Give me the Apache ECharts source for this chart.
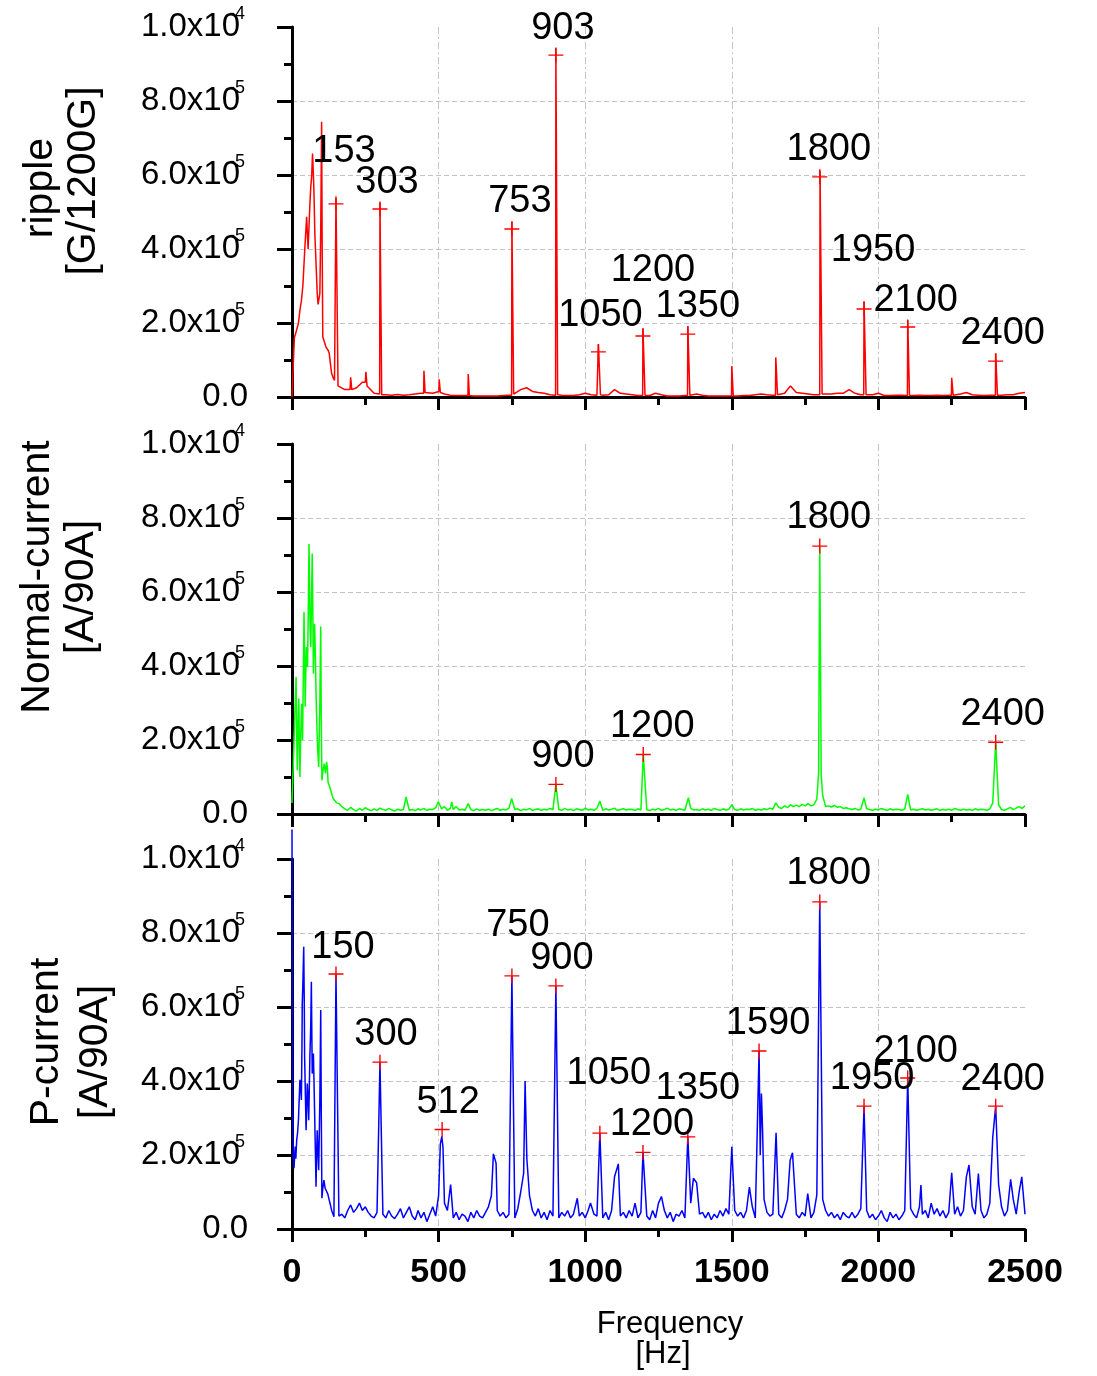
<!DOCTYPE html>
<html>
<head>
<meta charset="utf-8">
<script src="https://cdn.jsdelivr.net/npm/echarts@6/dist/echarts.min.js"></script>
<style>
  html, body { margin: 0; padding: 0; background: #fff; }
  #chart { width: 1097px; height: 1376px; }
</style>
</head>
<body>
<div id="chart"></div>
<script>
// values in units of 1e-5, frequency in Hz
const yTickMain = ['0.0', '2.0x10', '4.0x10', '6.0x10', '8.0x10', '1.0x10'];
const yTickExp = ['', '-5', '-5', '-5', '-5', '-4'];
const yNames = [['ripple', '[G/1200G]'], ['Normal-current', '[A/90A]'], ['P-current', '[A/90A]']];

// ---- ripple (red) ----
const redLow = [[0,0],[4,0.8],[8,1.6],[12,1.7],[18,1.75],[22,2.0],[27,2.35],[32,2.6],[37,3.0],[41,3.6],[44,4.05],[47,4.1],
  [50,4.87],[53,4.3],[55,4.0],[58,4.6],[61,5.2],[64,5.68],[67,5.95],[70,6.58],[73,6.0],[75,5.5],[78,4.4],[82,3.6],
  [86,2.8],[89,2.5],[91,2.54],[95,2.8],[98,4.5],[101,7.44],[103,4.0],[105,1.63],[110,1.5],[116,1.35],[120,1.4],
  [124,1.25],[127,1.18],[131,0.9],[135,0.64],[141,0.51],[145,0.45]];
// every 20 Hz from 160 Hz
const redFloor = [
  0.25,0.2,0.2,0.25,0.4,0.3,0.1,0.05,0.06,0.05,0.07,0.05,0.06,0.08,0.1,0.15,0.1,
  0.2,0.08,0.05,0.04,0.04,0.04,0.03,0.03,0.03,0.03,0.03,0.04,0.05,
  0.1,0.2,0.25,0.15,0.12,0.1,0.06,0.05,0.05,0.04,0.04,0.06,
  0.1,0.06,0.05,0.05,0.06,0.2,0.1,0.08,0.06,0.04,0.04,0.04,0.1,0.06,0.03,0.03,0.03,0.04,0.04,0.08,0.05,0.03,0.03,0.03,0.03,
  0.03,0.03,0.04,0.04,0.06,0.08,0.06,0.05,0.05,0.1,0.3,0.12,0.1,0.08,0.06,0.05,0.08,0.08,0.1,0.1,0.2,0.1,0.06,0.05,0.06,
  0.1,0.04,0.04,0.05,0.05,0.04,0.04,0.05,0.04,0.04,0.05,0.04,0.05,0.06,0.08,0.12,0.06,0.05,0.04,0.05,0.05,0.05,0.06,0.06,0.1,0.12];
// spike tops with their feet
const redSpikes = [
  [148,0.45],[150,5.38],[157,0.3], [198,0.2],[200,0.53],[204,0.2], [250,0.4],[252,0.68],[256,0.3],
  [299,0.08],[300,5.25],[306,0.06], [449,0.1],[450,0.71],[454,0.12], [501,0.15],[502,0.48],[506,0.12],
  [600,0.04],[601,0.62],[605,0.04], [749,0.05],[750,4.74],[756,0.08], [899,0.05],[900,9.42],[906,0.06],
  [1044,0.05],[1045,1.43],[1052,0.06], [1196,0.04],[1197,1.86],[1204,0.05], [1349,0.04],[1350,1.92],[1357,0.05],
  [1499,0.03],[1500,0.84],[1505,0.03], [1649,0.05],[1650,1.07],[1656,0.06], [1800,0.06],[1801,6.12],[1808,0.08],
  [1950,0.06],[1951,2.58],[1958,0.06], [2099,0.04],[2100,2.08],[2106,0.05], [2249,0.05],[2250,0.52],[2255,0.05],
  [2399,0.05],[2400,1.18],[2406,0.05]];
const redMarks = [[150,5.22],[300,5.08],[750,4.54],[900,9.24],[1045,1.22],[1197,1.65],[1350,1.7],[1800,5.95],[1951,2.38],[2100,1.89],[2400,0.97]];
const redLabels = ['153','303','753','903','1050','1200','1350','1800','1950','2100','2400'];

// ---- normal current (green) ----
const greenLow = [[0,0.3],[2,0.78],[5,1.5],[7,1.99],[10,2.8],[14,3.7],[16,2.2],[18,1.18],[21,2.5],[23,3.12],[25,2.0],
  [27,1.0],[30,2.2],[33,2.98],[36,2.0],[39,4.0],[41,5.46],[43,4.2],[45,2.9],[47,3.8],[49,4.51],[51,4.2],[53,3.97],
  [56,5.8],[58,7.3],[60,6.0],[62,5.0],[64,4.51],[66,5.5],[69,7.04],[71,5.5],[73,3.79],[75,4.5],[77,5.14],[80,4.2],
  [82,3.3],[84,2.6],[86,2.08],[88,1.7],[91,1.27],[95,3.0],[98,5.07],[100,2.5],[102,0.91],[106,1.2],[110,1.36],
  [114,1.1],[118,1.41],[121,1.2],[123,0.86],[128,0.75],[132,0.64],[137,0.5],[141,0.41],[147,0.38],[152,0.3]];
// every 10 Hz from 160 Hz
const greenFloor = [
  0.28,0.2,0.14,0.1,0.18,0.12,0.08,0.15,0.1,0.17,0.12,0.09,0.14,0.1,0.16,0.12,0.1,0.15,0.11,0.08,0.13,0.1,0.12,0.16,0.1,
  0.12,0.09,0.14,0.11,0.15,0.1,0.13,0.12,0.17,0.11,0.14,0.2,0.1,0.15,0.12,0.2,0.11,0.13,0.1,0.16,0.12,0.09,0.14,0.1,0.12,
  0.1,0.13,0.09,0.12,0.15,0.1,0.13,0.11,0.16,0.1,0.12,0.14,0.09,0.13,0.11,0.15,0.1,0.12,0.14,0.1,0.13,0.11,0.15,0.12,0.14,
  0.12,0.1,0.15,0.11,0.13,0.09,0.14,0.12,0.1,0.16,0.11,0.13,0.1,0.15,0.12,0.1,0.14,0.11,0.13,0.16,0.1,0.12,0.14,0.11,0.13,
  0.12,0.1,0.14,0.11,0.2,0.12,0.09,0.13,0.11,0.15,0.1,0.12,0.16,0.11,0.13,0.1,0.14,0.12,0.1,0.13,0.15,0.11,0.12,0.1,0.14,
  0.11,0.13,0.1,0.15,0.12,0.1,0.14,0.11,0.13,0.16,0.12,0.1,0.14,0.11,0.13,0.12,0.15,0.1,0.13,0.11,0.14,0.12,0.16,0.13,0.15,
  0.18,0.15,0.22,0.17,0.25,0.2,0.24,0.2,0.26,0.22,0.28,0.22,0.25,0.4,0.3,0.5,0.2,0.22,0.19,0.23,0.18,0.2,0.15,0.17,0.14,
  0.12,0.15,0.11,0.13,0.1,0.14,0.12,0.1,0.13,0.11,0.15,0.12,0.1,0.14,0.11,0.13,0.12,0.1,0.14,0.12,0.11,0.13,0.1,0.12,0.14,
  0.11,0.13,0.1,0.12,0.14,0.1,0.12,0.11,0.13,0.1,0.15,0.12,0.1,0.13,0.11,0.12,0.1,0.14,0.11,0.13,0.12,0.1,0.14,0.3,0.4,
  0.25,0.12,0.1,0.14,0.18,0.12,0.16,0.2,0.15,0.22];
const greenSpikes = [[389,0.46],[499,0.33],[545,0.33],[601,0.28],[749,0.42],[900,0.8],[1050,0.35],[1198,1.61],[1352,0.44],
  [1500,0.25],[1650,0.3],[1796,1.1],[1800,7.24],[1805,1.05],[1951,0.44],[2100,0.53],[2400,1.94]];
const greenMarks = [[900,0.8],[1198,1.61],[1800,7.24],[2400,1.94]];
const greenLabels = ['900','1200','1800','2400'];

// ---- P-current (blue) ----
const blueLow = [[0,10.8],[2,3.31],[4,2.0],[7,1.64],[9,2.0],[11,2.23],[13,1.9],[16,2.4],[19,2.6],[22,2.94],[25,3.6],
  [27,4.03],[30,3.8],[32,3.49],[34,5.0],[35,6.1],[37,6.6],[40,7.63],[42,6.0],[43,4.65],[46,3.5],[48,2.67],[50,3.2],
  [52,3.93],[55,3.5],[57,2.94],[59,3.8],[61,4.65],[64,5.5],[66,6.68],[68,5.0],[69,4.2],[71,4.5],[73,4.74],[75,4.0],
  [77,3.21],[80,2.0],[82,1.14],[84,2.0],[86,2.67],[88,2.2],[91,1.59],[95,3.5],[98,5.92],[100,3.0],[102,0.83],
  [105,1.1],[109,1.32],[113,1.1],[118,1.05],[122,0.95],[127,0.78],[131,0.65],[135,0.51],[140,0.4],[143,0.33]];
// every 10 Hz from 160 Hz
const blueFloor = [
  0.35,0.4,0.3,0.5,0.65,0.45,0.55,0.7,0.5,0.6,0.45,0.35,0.3,0.45,0.25,0.4,0.3,0.5,0.35,0.28,0.4,0.55,0.3,0.45,0.6,
  0.35,0.25,0.5,0.3,0.45,0.2,0.4,0.6,0.35,0.9,0.5,0.7,0.5,0.4,0.3,0.45,0.25,0.4,0.35,0.2,0.45,0.3,0.5,0.35,0.3,
  0.45,0.6,0.9,0.8,0.5,0.35,0.45,0.3,0.4,0.35,0.3,0.55,1.0,1.5,1.0,0.9,0.5,0.35,0.55,0.3,0.45,0.25,0.5,0.35,0.4,
  0.3,0.45,0.35,0.5,0.3,0.4,0.6,0.35,0.45,0.3,0.5,0.7,0.4,0.35,0.4,0.3,0.45,0.25,0.5,0.6,0.6,0.35,0.45,0.3,0.5,
  0.35,0.7,0.3,0.45,0.4,0.35,0.25,0.5,0.3,0.7,0.88,0.5,0.3,0.45,0.2,0.4,0.35,0.5,0.3,0.6,0.7,0.9,0.8,0.4,0.45,
  0.3,0.45,0.25,0.4,0.3,0.5,0.35,0.55,0.4,0.6,0.5,0.35,0.45,0.3,0.5,0.9,0.6,0.3,0.5,1.5,0.8,0.45,0.35,0.4,0.5,
  0.4,0.3,0.5,0.8,0.9,0.6,0.4,0.3,0.45,0.35,0.5,0.3,0.45,0.92,0.5,0.8,0.5,0.35,0.45,0.3,0.4,0.25,0.45,0.35,0.3,
  0.45,0.3,0.4,0.55,0.4,0.5,0.3,0.4,0.25,0.35,0.5,0.3,0.2,0.45,0.3,0.4,0.25,0.35,0.5,0.4,0.55,0.4,0.3,0.6,0.4,
  0.5,0.3,0.7,0.4,0.55,0.35,0.5,0.3,0.45,0.4,0.4,0.6,0.35,0.5,0.9,1.0,0.6,0.4,0.9,0.5,0.3,0.4,0.7,0.8,0.5,
  1.2,0.6,0.35,0.5,1.3,0.8,0.4,1.0,1.4,0.4];
const blueSpikes = [[150,6.89],[300,4.51],[506,2.3],[511,2.5],[515,2.2],[541,1.2],[687,2.03],[696,1.78],[750,6.84],
  [795,4.0],[801,1.9],[900,6.57],[973,0.83],[1018,0.7],[1050,2.59],[1100,1.41],[1113,1.76],[1197,2.07],[1350,2.49],
  [1369,1.37],[1380,1.25],[1500,2.22],[1560,1.13],[1593,4.81],[1597,2.0],[1601,3.66],[1605,2.67],[1651,2.6],[1699,1.86],
  [1707,2.06],[1759,0.96],[1800,8.84],[1951,3.32],[2100,4.08],[2145,1.19],[2250,1.52],[2300,1.41],[2309,1.73],
  [2341,1.5],[2390,2.48],[2400,3.32],[2451,1.34],[2489,1.41]];
const blueMarks = [[150,6.89],[300,4.51],[512,2.69],[750,6.84],[900,6.57],[1050,2.59],[1197,2.07],[1350,2.49],
  [1593,4.81],[1800,8.84],[1951,3.32],[2100,4.08],[2400,3.32]];
const blueLabels = ['150','300','512','750','900','1050','1200','1350','1590','1800','1950','2100','2400'];

const xTicks = [0, 500, 1000, 1500, 2000, 2500];

// label shift from the "+" marker, px
const redShift = [[8,-52],[7,-27],[8,-28],[7,-27],[2,-36],[10,-65],[10,-28],[9,-27],[9,-58],[8,-27],[7,-28]];
const greenShift = [[7,-28],[9,-28],[9,-29],[7,-28]];
const blueShift = [[7,-27],[6,-28],[6,-27],[6,-50],[6,-27],[9,-60],[9,-28],[10,-48],[9,-28],[9,-28],[8,-28],[8,-27],[7,-27]];

const FONT = '"Liberation Sans", Arial, sans-serif';
const PLUS_SIZE = 15;
const PLUS = 'path://M0,6.8L15,6.8L15,8.2L0,8.2Z M6.8,0L8.2,0L8.2,15L6.8,15Z';

function buildTrace(low, floor, floorStart, step, spikes) {
  const pts = low.slice();
  floor.forEach((v, i) => {
    const f = floorStart + i * step;
    if (!spikes.some(s => Math.abs(s[0] - f) < 4)) pts.push([f, v]);
  });
  spikes.forEach(s => pts.push(s));
  pts.sort((a, b) => a[0] - b[0]);
  return pts.map(p => [p[0], p[1] * 1e-5]);
}

const grids = [
  { left: 292, right: 72, top: 27, height: 370 },
  { left: 292, right: 72, top: 444, height: 370 },
  { left: 292, right: 72, top: 859, height: 370 }
];

function makeX(i) {
  return {
    type: 'value', gridIndex: i, min: 0, max: 2500, interval: 500,
    axisLine: { lineStyle: { color: '#000', width: 3 } },
    axisTick: { length: 13, lineStyle: { color: '#000', width: 3 } },
    minorTick: { show: true, splitNumber: 2, length: 8, lineStyle: { color: '#000', width: 3 } },
    splitLine: { show: true, showMinLine: false, showMaxLine: false, lineStyle: { color: '#c4c4c4', width: 1, type: [7, 3, 2, 3] } },
    axisLabel: {
      show: i === 2, margin: 27, color: '#000', fontSize: 34, fontWeight: 'bold', fontFamily: FONT,
      formatter: v => xTicks.indexOf(v) >= 0 ? String(v) : ''
    }
  };
}

function makeY(i) {
  return {
    type: 'value', gridIndex: i, min: 0, max: 1e-4, interval: 2e-5,
    axisLine: { lineStyle: { color: '#000', width: 3 } },
    axisTick: { length: 15, lineStyle: { color: '#000', width: 3 } },
    minorTick: { show: true, splitNumber: 2, length: 8, lineStyle: { color: '#000', width: 3 } },
    splitLine: { show: true, showMinLine: false, showMaxLine: false, lineStyle: { color: '#c4c4c4', width: 1, type: [5, 3] } },
    axisLabel: {
      margin: 44, color: '#000', fontSize: 33, fontFamily: FONT,
      formatter: v => {
        const k = Math.round(v / 2e-5);
        return k === 0 ? '{z|' + yTickMain[0] + '}' : '{m|' + yTickMain[k] + '}';
      },
      rich: {
        z: { fontSize: 33, fontFamily: FONT, color: '#000' },
        m: { fontSize: 33, fontFamily: FONT, color: '#000', padding: [0, 8, 0, 0] }
      }
    }
  };
}

// exponents drawn as a second, label-only axis so they can sit above and over the "10"
function makeExp(i) {
  return {
    type: 'value', gridIndex: i, min: 0, max: 1e-4, interval: 2e-5, position: 'left',
    axisLine: { show: false }, axisTick: { show: false }, splitLine: { show: false },
    axisLabel: {
      margin: 47, color: '#000', fontSize: 18, fontFamily: FONT,
      verticalAlign: 'bottom', lineHeight: 25,
      formatter: v => yTickExp[Math.round(v / 2e-5)]
    }
  };
}

function lineSeries(i, data, color) {
  return {
    type: 'line', xAxisIndex: i, yAxisIndex: i * 2, data: data,
    showSymbol: false, clip: false, animation: false, silent: true,
    lineStyle: { color: color, width: 1.5 }, z: 2
  };
}

function markSeries(i, marks, labels, shifts) {
  const half = PLUS_SIZE / 2;
  return {
    type: 'scatter', xAxisIndex: i, yAxisIndex: i * 2, symbol: PLUS, symbolSize: PLUS_SIZE,
    itemStyle: { color: '#ff0000', opacity: 1 }, animation: false, silent: true, z: 5,
    data: marks.map((m, k) => ({
      value: [m[0], m[1] * 1e-5],
      label: { position: [half + shifts[k][0], half + shifts[k][1]], formatter: labels[k] }
    })),
    label: {
      show: true, color: '#000000', fontSize: 38, fontFamily: FONT, opacity: 1,
      align: 'center', verticalAlign: 'middle', textBorderWidth: 0
    }
  };
}

const redData = buildTrace(redLow, redFloor, 160, 20, redSpikes);
const greenData = buildTrace(greenLow, greenFloor, 160, 10, greenSpikes);
const blueData = buildTrace(blueLow, blueFloor, 160, 10, blueSpikes);

function nameText(x, y, text) {
  return {
    type: 'text', x: x, y: y, rotation: Math.PI / 2, silent: true,
    style: { text: text, font: '41px ' + FONT, fill: '#000', align: 'center', verticalAlign: 'middle' }
  };
}

const chart = echarts.init(document.getElementById('chart'), null, { renderer: 'canvas' });
chart.setOption({
  backgroundColor: '#fff',
  animation: false,
  grid: grids,
  xAxis: [makeX(0), makeX(1), makeX(2)],
  yAxis: [makeY(0), makeExp(0), makeY(1), makeExp(1), makeY(2), makeExp(2)],
  series: [
    lineSeries(0, redData, '#ff0000'),
    lineSeries(1, greenData, '#00ff00'),
    lineSeries(2, blueData, '#0000ff'),
    markSeries(0, redMarks, redLabels, redShift),
    markSeries(1, greenMarks, greenLabels, greenShift),
    markSeries(2, blueMarks, blueLabels, blueShift)
  ],
  graphic: [
    nameText(41, 188, yNames[0][0]),
    nameText(84, 181, yNames[0][1]),
    nameText(38, 577, yNames[1][0]),
    nameText(82, 587, yNames[1][1]),
    nameText(47, 1042, yNames[2][0]),
    nameText(96, 1052, yNames[2][1]),
    {
      type: 'text', x: 670, y: 1324, silent: true,
      style: { text: 'Frequency', font: '31px ' + FONT, fill: '#000', align: 'center', verticalAlign: 'middle' }
    },
    {
      type: 'text', x: 663, y: 1354, silent: true,
      style: { text: '[Hz]', font: '31px ' + FONT, fill: '#000', align: 'center', verticalAlign: 'middle' }
    }
  ]
});
</script>
</body>
</html>
